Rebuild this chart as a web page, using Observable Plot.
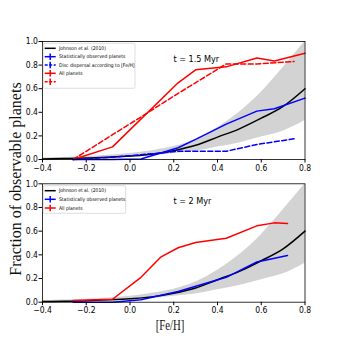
<!DOCTYPE html>
<html><head><meta charset="utf-8">
<script src="https://cdn.jsdelivr.net/npm/d3@7"></script>
<script src="https://cdn.jsdelivr.net/npm/@observablehq/plot@0.6"></script>
<style>
body{margin:0;background:#fff;}
#fig{position:relative;width:339px;height:339px;overflow:hidden;background:#fff;}
.panel{position:absolute;left:0;}
.ylab{position:absolute;left:16px;top:179px;transform:translate(-50%,-50%) rotate(-90deg);font-family:"Liberation Serif","Times New Roman",serif;font-size:16px;white-space:nowrap;color:#111;}
.xlab{position:absolute;left:170px;top:325px;transform:translate(-50%,-50%) scaleX(0.74);font-family:"Liberation Serif","Times New Roman",serif;font-size:14.5px;white-space:nowrap;color:#111;}
#leg{position:absolute;left:0;top:0;}
</style></head><body><div id="fig"></div>
<script>
// ---- data ----
const fehGrid     = [-0.4,-0.3,-0.2,-0.1,0.0,0.1,0.2,0.3,0.4,0.5,0.6,0.7,0.8];
const johnsonFit  = [0.005,0.008,0.012,0.02,0.03,0.045,0.075,0.12,0.19,0.26,0.35,0.45,0.60];
const johnsonLow  = [0.003,0.005,0.008,0.012,0.02,0.03,0.05,0.07,0.105,0.14,0.19,0.24,0.33];
const johnsonHigh = [0.012,0.018,0.025,0.035,0.05,0.075,0.11,0.17,0.27,0.40,0.57,0.78,1.0];

// t = 1.5 Myr
const topAllX   = [-0.26,-0.08,0.22,0.30,0.44,0.58,0.66,0.80];
const topAllY   = [0.0,0.107,0.65,0.76,0.785,0.86,0.835,0.90];
const topAllDX  = [-0.26,-0.08,0.05,0.22,0.44,0.58,0.75];
const topAllDY  = [0.0,0.21,0.36,0.56,0.81,0.81,0.83];
const topObsX   = [-0.26,-0.08,0.05,0.22,0.30,0.44,0.58,0.66,0.80];
const topObsY   = [0.0,0.0,0.005,0.10,0.17,0.30,0.41,0.43,0.52];
const topDiscX  = [-0.26,-0.08,0.05,0.22,0.44,0.58,0.75];
const topDiscY  = [0.0,0.02,0.04,0.07,0.07,0.127,0.175];

// t = 2 Myr
const botAllX   = [-0.26,-0.08,0.05,0.14,0.22,0.30,0.44,0.58,0.66,0.72];
const botAllY   = [0.014,0.025,0.21,0.38,0.46,0.505,0.54,0.645,0.67,0.665];
const botObsX   = [-0.26,-0.08,0.05,0.22,0.44,0.58,0.72];
const botObsY   = [0.0,0.0,0.02,0.09,0.21,0.34,0.395];

const xTicks = [-0.4,-0.2,0.0,0.2,0.4,0.6,0.8];
const yTicks = [0.0,0.2,0.4,0.6,0.8,1.0];
const topLabel = "t = 1.5 Myr";
const botLabel = "t = 2 Myr";
const legendTopLabels = ["Johnson et al. (2010)","Statistically observed planets","Disc dispersal according to [Fe/H]","All planets",""];
const legendBotLabels = ["Johnson et al. (2010)","Statistically observed planets","All planets"];

// ---- build ----
const zip = (xs, ys) => xs.map((x,i)=>({x, y: ys[i]}));
const band = fehGrid.map((x,i)=>({x, lo: johnsonLow[i], hi: johnsonHigh[i], fit: johnsonFit[i]}));
const RED = "#ff0000", BLUE = "#0000ff";
const DASH = "5,2.5";
const fontUI = '"DejaVu Sans Condensed","Liberation Sans Narrow","DejaVu Sans",sans-serif';

function panel({height, marginTop, marginBottom, series, label}) {
  return Plot.plot({
    width: 339, height, marginLeft: 42, marginRight: 34.5, marginTop, marginBottom,
    style: {fontFamily: fontUI, fontSize: "8.5px", background: "transparent", color: "#000", overflow: "visible"},
    x: {domain: [-0.4, 0.8], ticks: xTicks, tickFormat: d3.format(".1f"), tickSize: 3.5, tickPadding: 1.5, label: null},
    y: {domain: [0, 1], ticks: yTicks, tickFormat: d3.format(".1f"), tickSize: 3.5, tickPadding: 1, label: null},
    marks: [
      Plot.areaY(band, {x: "x", y1: "lo", y2: "hi", fill: "#d3d3d3", curve: "monotone-x"}),
      Plot.line(band, {x: "x", y: "fit", stroke: "black", strokeWidth: 1.5, curve: "monotone-x"}),
      ...series.map(s => Plot.line(zip(s.x, s.y), {x: "x", y: "y", stroke: s.color, strokeWidth: 1.5, strokeDasharray: s.dash || null})),
      Plot.frame({stroke: "black", strokeWidth: 0.8}),
      Plot.text([label], {frameAnchor: "top-left", dx: 131, dy: 14, textAnchor: "start", fontSize: 9, fontFamily: fontUI})
    ]
  });
}

const fig = document.getElementById("fig");
const topPanel = panel({height: 175, marginTop: 41, marginBottom: 16, label: topLabel, series: [
  {x: topAllDX, y: topAllDY, color: RED, dash: DASH},
  {x: topAllX, y: topAllY, color: RED},
  {x: topObsX, y: topObsY, color: BLUE},
  {x: topDiscX, y: topDiscY, color: BLUE, dash: DASH}
]});
topPanel.classList.add("panel"); topPanel.style.top = "0px";
fig.appendChild(topPanel);

const botPanel = panel({height: 164, marginTop: 8.3, marginBottom: 37.3, label: botLabel, series: [
  {x: botAllX, y: botAllY, color: RED},
  {x: botObsX, y: botObsY, color: BLUE}
]});
botPanel.classList.add("panel"); botPanel.style.top = "175px";
fig.appendChild(botPanel);

const yl = document.createElement("div"); yl.className = "ylab"; yl.textContent = "Fraction of observable planets"; fig.appendChild(yl);
const xl = document.createElement("div"); xl.className = "xlab"; xl.textContent = "[Fe/H]"; fig.appendChild(xl);

// legends
const svg = d3.select(fig).append("svg").attr("id","leg").attr("width",339).attr("height",339);
function legend(box, rows, labels, styles) {
  svg.append("rect").attr("x",box[0]).attr("y",box[1]).attr("width",box[2]).attr("height",box[3])
    .attr("rx",1.5).attr("fill","rgba(255,255,255,0.85)").attr("stroke","#d0d0d0").attr("stroke-width",0.7);
  labels.forEach((lab,i)=>{
    const y = rows[i], s = styles[i];
    svg.append("line").attr("x1",44.7).attr("x2",55.7).attr("y1",y).attr("y2",y)
      .attr("stroke",s.color).attr("stroke-width",1.5).attr("stroke-dasharray",s.dash||null);
    if (s.err) svg.append("line").attr("x1",50.2).attr("x2",50.2).attr("y1",y-3.3).attr("y2",y+3.3)
      .attr("stroke",s.color).attr("stroke-width",1.5);
    svg.append("text").attr("x",59).attr("y",y).attr("dy","0.35em").attr("font-size",5)
      .attr("font-family",fontUI).text(lab);
  });
}
legend([43.3,43.3,91.7,45], [48.3,56.7,65,73.3,81.7], legendTopLabels, [
  {color:"black"},{color:BLUE,err:true},{color:BLUE,err:true,dash:"3,1.5"},{color:RED,err:true},{color:RED,err:true,dash:"3,1.5"}]);
legend([43.3,185.7,82.4,27.6], [190.7,199.3,208], legendBotLabels, [
  {color:"black"},{color:BLUE,err:true},{color:RED,err:true}]);
</script></body></html>
